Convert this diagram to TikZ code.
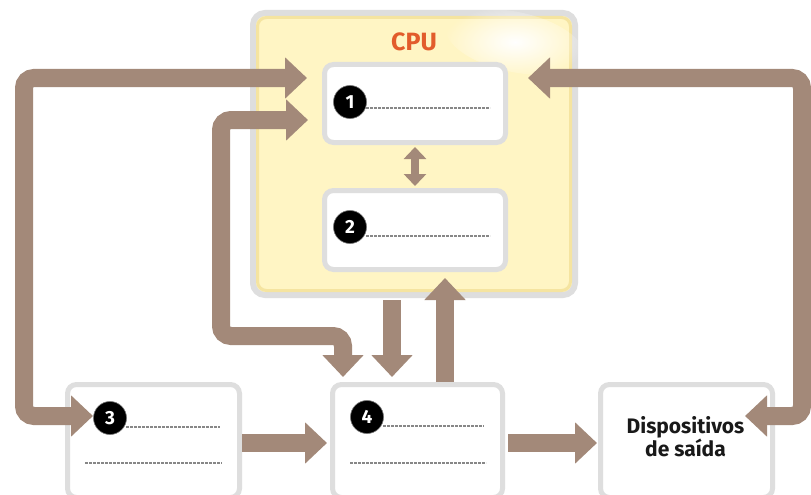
\documentclass[tikz,border=0pt]{standalone}
\usepackage{fontspec}
\setmainfont{Fira Sans}
\usetikzlibrary{arrows.meta,calc,fadings}

\definecolor{arrowbrown}{RGB}{163,137,121}
\definecolor{cpuyellow}{RGB}{255,245,196}
\definecolor{cpuedge}{RGB}{245,228,160}
\definecolor{framegray}{RGB}{222,222,222}
\definecolor{cpuorange}{RGB}{226,92,44}
\definecolor{dotgray}{RGB}{135,135,135}

\tikzfading[name=glare, inner color=transparent!0, outer color=transparent!100]

\tikzset{
  panel/.style={draw=framegray, line width=5pt, fill=white, rounded corners=9pt, inner sep=0pt},
  cpubox/.style={draw=framegray, line width=6pt, fill=cpuyellow, rounded corners=12pt, inner sep=0pt},
  badge/.style={circle, fill=black, draw=black!55, line width=0.6pt, minimum size=33pt, inner sep=0pt,
                text=white, font=\bfseries\fontsize{19}{19}\selectfont},
  dots/.style={draw=dotgray, line width=2.4pt, dash pattern=on 2.6pt off 1.4pt},
  flow/.style={draw=arrowbrown, line width=18pt, rounded corners=10pt,
               -{Triangle[width=40pt,length=22pt]}},
  flowboth/.style={draw=arrowbrown, line width=18pt, rounded corners=10pt,
               {Triangle[width=40pt,length=22pt]}-{Triangle[width=40pt,length=22pt]}},
  flowsmall/.style={draw=arrowbrown, line width=8pt,
               {Triangle[width=22pt,length=12pt]}-{Triangle[width=22pt,length=12pt]}},
  devlabel/.style={align=center, font=\bfseries\fontsize{21}{22}\selectfont, text=black!90},
}

\begin{document}
\begin{tikzpicture}[x=1pt,y=-1pt]
\clip (0,0) rectangle (811,495);
\fill[white] (0,0) rectangle (811,495);

% CPU enclosure with its soft highlight
\node[cpubox, minimum width=322pt, minimum height=282pt] (cpu) at (414,154) {};
\draw[cpuedge, line width=3pt, rounded corners=9pt] (257.5,17.5) rectangle (570.5,290.5);
\fill[white, path fading=glare, rotate around={-12:(515,42)}] (515,42) ellipse [x radius=70, y radius=30];
\node[font=\bfseries\fontsize{25}{26}\selectfont, text=cpuorange] (cpulabel) at (414,42) {CPU};

% panels
\node[panel, minimum width=181pt, minimum height=78pt] (b1) at (415,103.5) {};
\node[panel, minimum width=181pt, minimum height=79pt] (b2) at (415,230) {};
\node[panel, minimum width=172pt, minimum height=113pt] (b3) at (153.5,441) {};
\node[panel, minimum width=170pt, minimum height=113pt] (b4) at (417.5,441) {};
\node[panel, minimum width=172pt, minimum height=113pt] (b5) at (686.5,441) {};

% corner points of the long connectors
\coordinate (lc1) at (24,78);
\coordinate (lc2) at (24,416);
\coordinate (mc1) at (221,120);
\coordinate (mc2) at (221,336);
\coordinate (mc3) at (343,336);
\coordinate (rc1) at (802,78);
\coordinate (rc2) at (802,416);

% connectors
\draw[flowsmall] ($(b1.south)+(0,2)$) -- ($(b2.north)+(0,-2)$);
\draw[flow] ($(cpu.south)+(-22,2)$) -- ($(b4.north)+(-25.5,-5)$);
\draw[flow] ($(b4.north)+(27.5,0)$) -- ($(cpu.south)+(31,-20)$);
\draw[flow] ($(b3.east)+(0,2)$) -- ($(b4.west)+(-3,2)$);
\draw[flow] ($(b4.east)+(3,2)$) -- ($(b5.west)+(-1,2)$);
\draw[flowboth] ($(b1.west)+(-15,-25.5)$) -- (lc1) -- (lc2) -- ($(b3.west)+(28,-25)$);
\draw[flowboth] ($(b1.west)+(-14,16.5)$) -- (mc1) -- (mc2) -- (mc3) -- ($(b4.north)+(-74.5,-5)$);
\draw[flowboth] ($(b1.east)+(20,-25.5)$) -- (rc1) -- (rc2) -- ($(b5.east)+(-30,-25)$);

% numbered badges with blank lines
\node[badge] (n1) at (350,102) {1};
\node[badge] (n2) at (350,227) {2};
\node[badge] (n3) at (110,418) {3};
\node[badge] (n4) at (367,417) {4};

\draw[dots] ($(n1.center)+(16,6)$) -- ($(b1.east)+(-18,4.5)$);
\draw[dots] ($(n2.center)+(16,9)$) -- ($(b2.east)+(-18,6)$);
\draw[dots] ($(n3.center)+(16,9)$) -- ($(b3.east)+(-22,-14)$);
\draw[dots] ($(b3.west)+(20,22)$) -- ($(b3.east)+(-20,22)$);
\draw[dots] ($(n4.center)+(16,9)$) -- ($(b4.east)+(-21,-15)$);
\draw[dots] ($(b4.west)+(20,22)$) -- ($(b4.east)+(-19,22)$);

\node[devlabel] (t5) at ($(b5.center)+(-1,-4)$) {Dispositivos\\de saída};
\end{tikzpicture}
\end{document}
